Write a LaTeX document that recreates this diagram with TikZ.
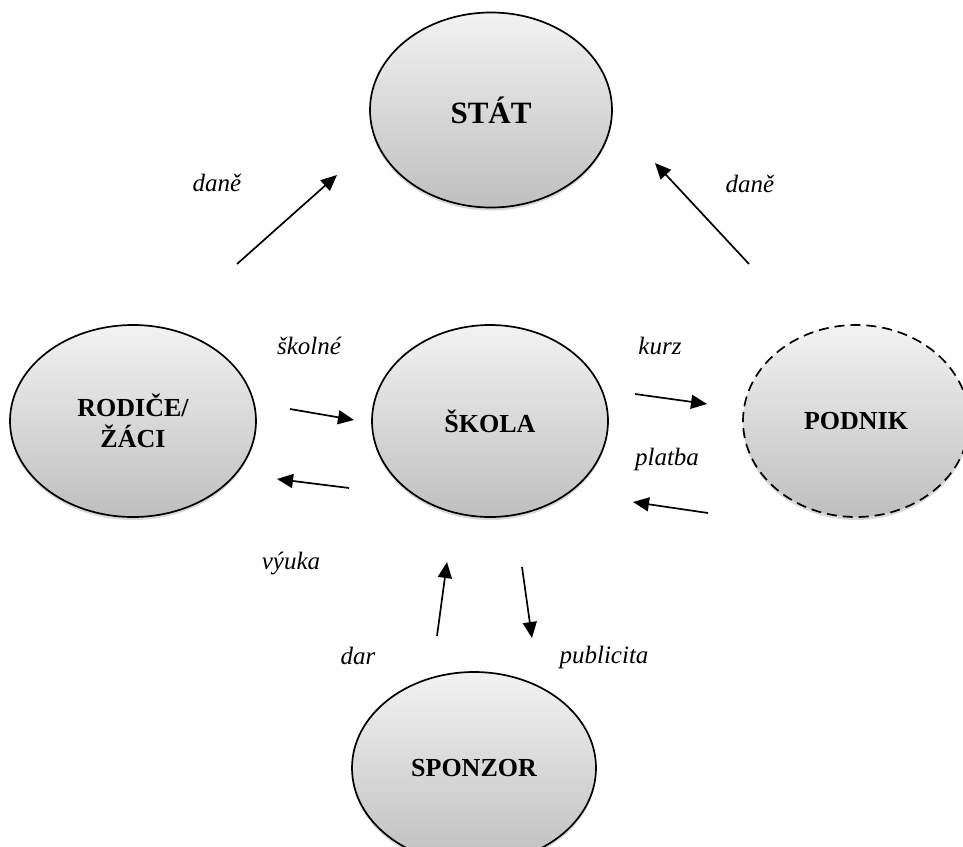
\documentclass[tikz,border=0pt]{standalone}
\usepackage{fontspec}
\setmainfont{Liberation Serif}
\usetikzlibrary{shapes.geometric,arrows.meta,shadows}
\tikzset{
  actor/.style={ellipse, draw=black, line width=1.7pt, inner sep=0pt,
    top color=gray!10, bottom color=gray!50,
    drop shadow={shadow xshift=0pt, shadow yshift=-3pt, opacity=0.25, fill=black!60},
    font=\fontsize{26}{31}\selectfont\bfseries, align=center,
    minimum width=236pt, minimum height=192pt},
  flow/.style={line width=1.7pt, -{Triangle[length=16pt,width=14pt]}},
  lbl/.style={font=\fontsize{25}{28}\selectfont\itshape, inner sep=0pt}
}
\begin{document}
\begin{tikzpicture}[x=1pt,y=-1pt]
\useasboundingbox (0,0) rectangle (963,846);
\node[actor, minimum width=242pt, minimum height=195pt, font=\fontsize{31}{35}\selectfont\bfseries] (stat) at (491,110) {STÁT};
\node[actor] (skola) at (490,421) {ŠKOLA};
\node[actor, minimum width=246pt] (rodice) at (133,421) {RODIČE/\\ŽÁCI};
\node[actor, dashed, dash pattern=on 10pt off 6pt, minimum width=226pt] (podnik) at (856,421) {PODNIK};
\node[actor, minimum width=244pt] (sponzor) at (474,768) {SPONZOR};

\coordinate (a1s) at (237,264); \coordinate (a1e) at (337,175);
\coordinate (a2s) at (749,264); \coordinate (a2e) at (655,163);
\coordinate (a3s) at (290,409); \coordinate (a3e) at (354,420);
\coordinate (a4s) at (349,488); \coordinate (a4e) at (277,479);
\coordinate (a5s) at (635,394); \coordinate (a5e) at (707,404);
\coordinate (a6s) at (708,513); \coordinate (a6e) at (633,502);
\coordinate (a7s) at (437,636); \coordinate (a7e) at (447,562);
\coordinate (a8s) at (522,567); \coordinate (a8e) at (532,638);

\draw[flow] (a1s) -- (a1e);
\draw[flow] (a2s) -- (a2e);
\draw[flow] (a3s) -- (a3e);
\draw[flow] (a4s) -- (a4e);
\draw[flow] (a5s) -- (a5e);
\draw[flow] (a6s) -- (a6e);
\draw[flow] (a7s) -- (a7e);
\draw[flow] (a8s) -- (a8e);

\node[lbl] (l1) at (217,183) {daně};
\node[lbl] (l2) at (750,184) {daně};
\node[lbl] (l3) at (309,346) {školné};
\node[lbl] (l4) at (660,346) {kurz};
\node[lbl] (l5) at (667,459) {platba};
\node[lbl] (l6) at (291,564) {výuka};
\node[lbl] (l7) at (358,656) {dar};
\node[lbl] (l8) at (604,657) {publicita};
\end{tikzpicture}
\end{document}
